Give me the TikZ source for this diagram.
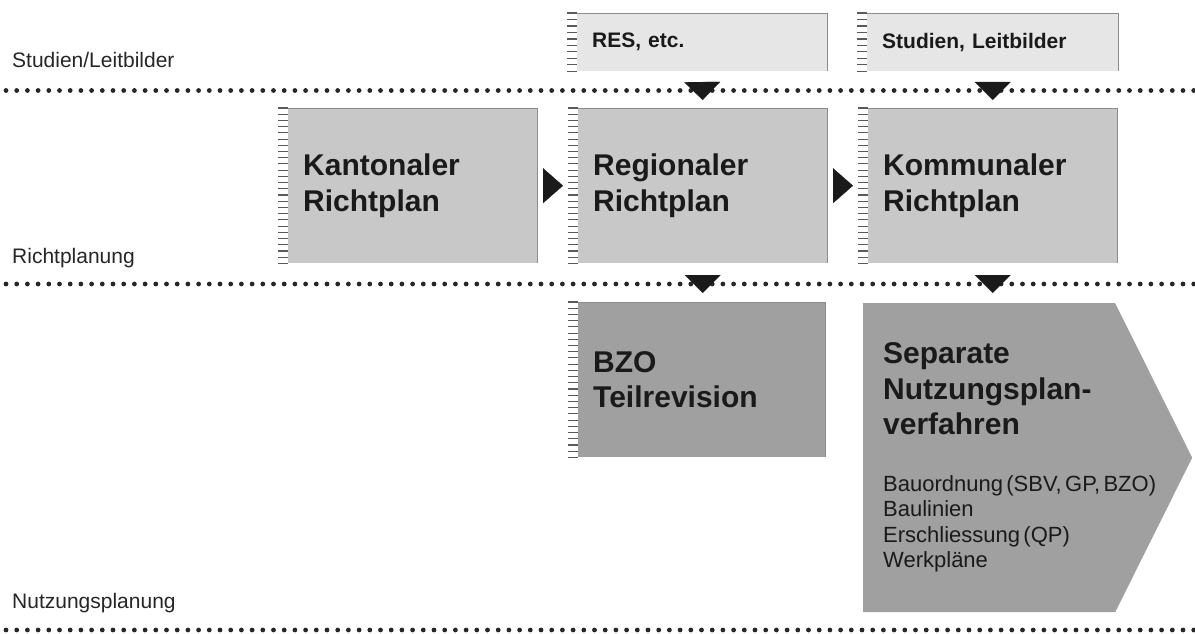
\documentclass[tikz,border=0pt]{standalone}
\usepackage{fontspec}
\setmainfont{Liberation Sans}
\usepackage{xcolor}
\usetikzlibrary{arrows.meta,calc}

\definecolor{lightbox}{HTML}{E6E6E6}
\definecolor{midbox}{HTML}{C8C8C8}
\definecolor{darkbox}{HTML}{A0A0A0}
\definecolor{inkgray}{HTML}{1A1A1A}
\definecolor{labelgray}{HTML}{262626}
\definecolor{edgegray}{HTML}{8C8C8C}
\definecolor{tickgray}{HTML}{5A5A5A}

\newcommand{\boxtitle}{\fontsize{30}{35.5}\selectfont\bfseries}
\newcommand{\smalltitle}{\fontsize{21}{25}\selectfont\bfseries}
\newcommand{\rowtext}{\fontsize{21}{25.5}\selectfont}
\newcommand{\listtext}{\fontsize{22}{25.5}\selectfont}

\tikzset{
    planbox/.style={rectangle, anchor=north west, inner xsep=15pt, inner ysep=0pt, align=left, text=inkgray},
    rowlabel/.style={anchor=base west, inner sep=0pt, text=labelgray, font=\rowtext},
    level/.style={draw=black!85, line width=4.8pt, line cap=round, dash pattern=on 0pt off 10.7pt},
    hatch/.style={draw=tickgray, line width=1.1pt},
    edge/.style={draw=edgegray, line width=0.9pt},
    handdown/.style={draw=inkgray, line width=0.1pt, -{Triangle[length=18pt,width=36pt]}},
    handside/.style={draw=inkgray, line width=0.1pt, -{Triangle[length=20pt,width=35pt]}},
    pointer/.style={fill=white, path picture={
        \fill[darkbox] (path picture bounding box.north west)
            -- ($(path picture bounding box.north east)+(-77,0)$)
            -- (path picture bounding box.east)
            -- ($(path picture bounding box.south east)+(-77,0)$)
            -- (path picture bounding box.south west) -- cycle;}}
}

\begin{document}
\begin{tikzpicture}[x=1pt, y=-1pt]
    \useasboundingbox (0,0) rectangle (1195,634);

    \draw[level] (6,90.5) -- (1195,90.5);
    \draw[level] (6,284) -- (1195,284);
    \draw[level] (6,630) -- (1195,630);

    \node[rowlabel] (lstud) at (12,68) {Studien/Leitbilder};
    \node[rowlabel] (lricht) at (12,263) {Richtplanung};
    \node[rowlabel] (lnutz) at (12,608) {Nutzungsplanung};

    \node[planbox, fill=lightbox, font=\smalltitle, text width=220pt, minimum height=58pt] (res) at (577,13) {RES, etc.};
    \node[planbox, fill=lightbox, font=\smalltitle, text width=221pt, minimum height=58pt] (stud) at (867,13) {Studien, Leitbilder};

    \node[planbox, fill=midbox, font=\boxtitle, text width=219pt, minimum height=155pt] (kant) at (288,108) {Kantonaler\\Richtplan};
    \node[planbox, fill=midbox, font=\boxtitle, text width=219pt, minimum height=155pt] (reg) at (578,108) {Regionaler\\Richtplan};
    \node[planbox, fill=midbox, font=\boxtitle, text width=219pt, minimum height=155pt] (komm) at (868,108) {Kommunaler\\Richtplan};

    \node[planbox, fill=darkbox, font=\boxtitle, text width=217pt, minimum height=155pt] (bzo) at (578,302) {BZO\\Teilrevision};
    \node[planbox, pointer, inner xsep=20pt, text width=289pt, minimum height=309pt] (sep) at (863,303)
        {{\boxtitle Separate\\Nutzungsplan-\\verfahren\par}\vspace{31pt}{\listtext Bauordnung (SBV, GP, BZO)\\Baulinien\\Erschliessung (QP)\\Werkpläne\par}};

    \foreach \n/\k in {res/9,stud/9,kant/25,reg/25,komm/25,bzo/25}
        \foreach \i in {0,...,\k}
            \draw[hatch] ($(\n.north west)!\i/\k!(\n.south west)$) -- +(-10,0);

    \foreach \n in {res,stud,kant,reg,komm,bzo}
        \draw[edge] (\n.north west) -- (\n.north east) -- (\n.south east);

    \draw[handdown, shorten <=11pt, shorten >=8pt] (res.south) -- (reg.north);
    \draw[handdown, shorten <=11pt, shorten >=8pt] (stud.south) -- (komm.north);
    \draw[handdown, shorten <=12pt, shorten >=9pt] (reg.south) -- (reg.south |- bzo.north);
    \draw[handdown, shorten <=12pt, shorten >=10pt] (komm.south) -- (komm.south |- sep.north);
    \draw[handside, shorten <=6pt, shorten >=15pt] (kant.east) -- (reg.west);
    \draw[handside, shorten <=6pt, shorten >=15pt] (reg.east) -- (komm.west);
\end{tikzpicture}
\end{document}
